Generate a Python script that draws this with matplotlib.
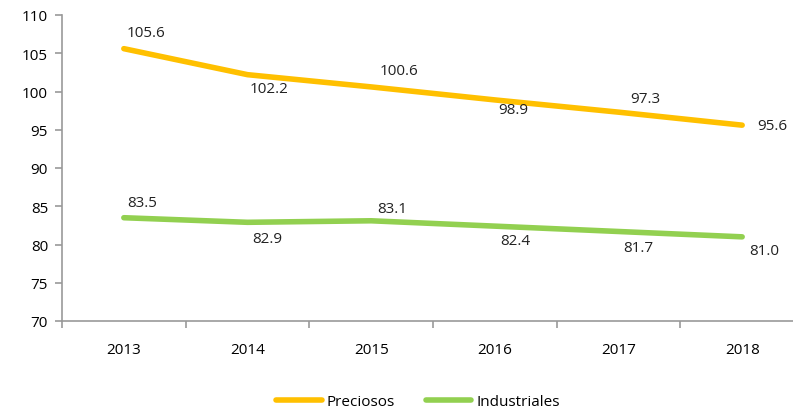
import matplotlib.pyplot as plt
from matplotlib.ticker import FixedLocator

years = ["2013", "2014", "2015", "2016", "2017", "2018"]
preciosos = [105.6, 102.2, 100.6, 98.9, 97.3, 95.6]
industriales = [83.5, 82.9, 83.1, 82.4, 81.7, 81.0]

# label placement: (dx, dy) in pixels from point
prec_off = [(22, 16), (22, -14), (28, 16), (18, -10), (27, 14), (30, 0)]
ind_off = [(18, 15), (20, -16), (21, 12), (20, -14), (20, -16), (22, -14)]

plt.rcParams["font.family"] = ["Open Sans", "DejaVu Sans"]
fs = 11

fig = plt.figure(figsize=(7.93, 4.14), dpi=100)
ax = fig.add_axes([62 / 793, 92 / 414, 742 / 793, 306 / 414])

x = range(len(years))
ax.plot(x, preciosos, color="#FFC000", lw=4, label="Preciosos", solid_capstyle="round")
ax.plot(x, industriales, color="#92D050", lw=4, label="Industriales", solid_capstyle="round")

for i, v in enumerate(preciosos):
    ax.annotate(f"{v:.1f}", (i, v), xytext=prec_off[i], textcoords="offset pixels",
                ha="center", va="center", fontsize=fs, color="#222222", annotation_clip=False)
for i, v in enumerate(industriales):
    ax.annotate(f"{v:.1f}", (i, v), xytext=ind_off[i], textcoords="offset pixels",
                ha="center", va="center", fontsize=fs, color="#222222", annotation_clip=False)

ax.set_xlim(-0.5, len(years) - 0.5)
ax.set_ylim(70, 110)
ax.set_yticks(range(70, 111, 5))
ax.set_xticks(list(x))
ax.set_xticklabels(years)
ax.xaxis.set_minor_locator(FixedLocator([i - 0.5 for i in range(len(years) + 1)]))
ax.tick_params(axis="x", which="major", length=0, pad=15, labelsize=fs)
ax.tick_params(axis="x", which="minor", length=5, color="#999999", width=1.2)
ax.tick_params(axis="y", length=5, color="#999999", width=1.2, labelsize=fs, pad=5)

for s in ["top", "right"]:
    ax.spines[s].set_visible(False)
for s in ["left", "bottom"]:
    ax.spines[s].set_color("#999999")
    ax.spines[s].set_linewidth(1.2)

fig.legend(loc="center", bbox_to_anchor=(418 / 793, 1 - 403 / 414), ncol=2,
           frameon=False, fontsize=fs, handlelength=3.0, columnspacing=2.0,
           handletextpad=0.3)

fig.savefig("out.png", dpi=100)
